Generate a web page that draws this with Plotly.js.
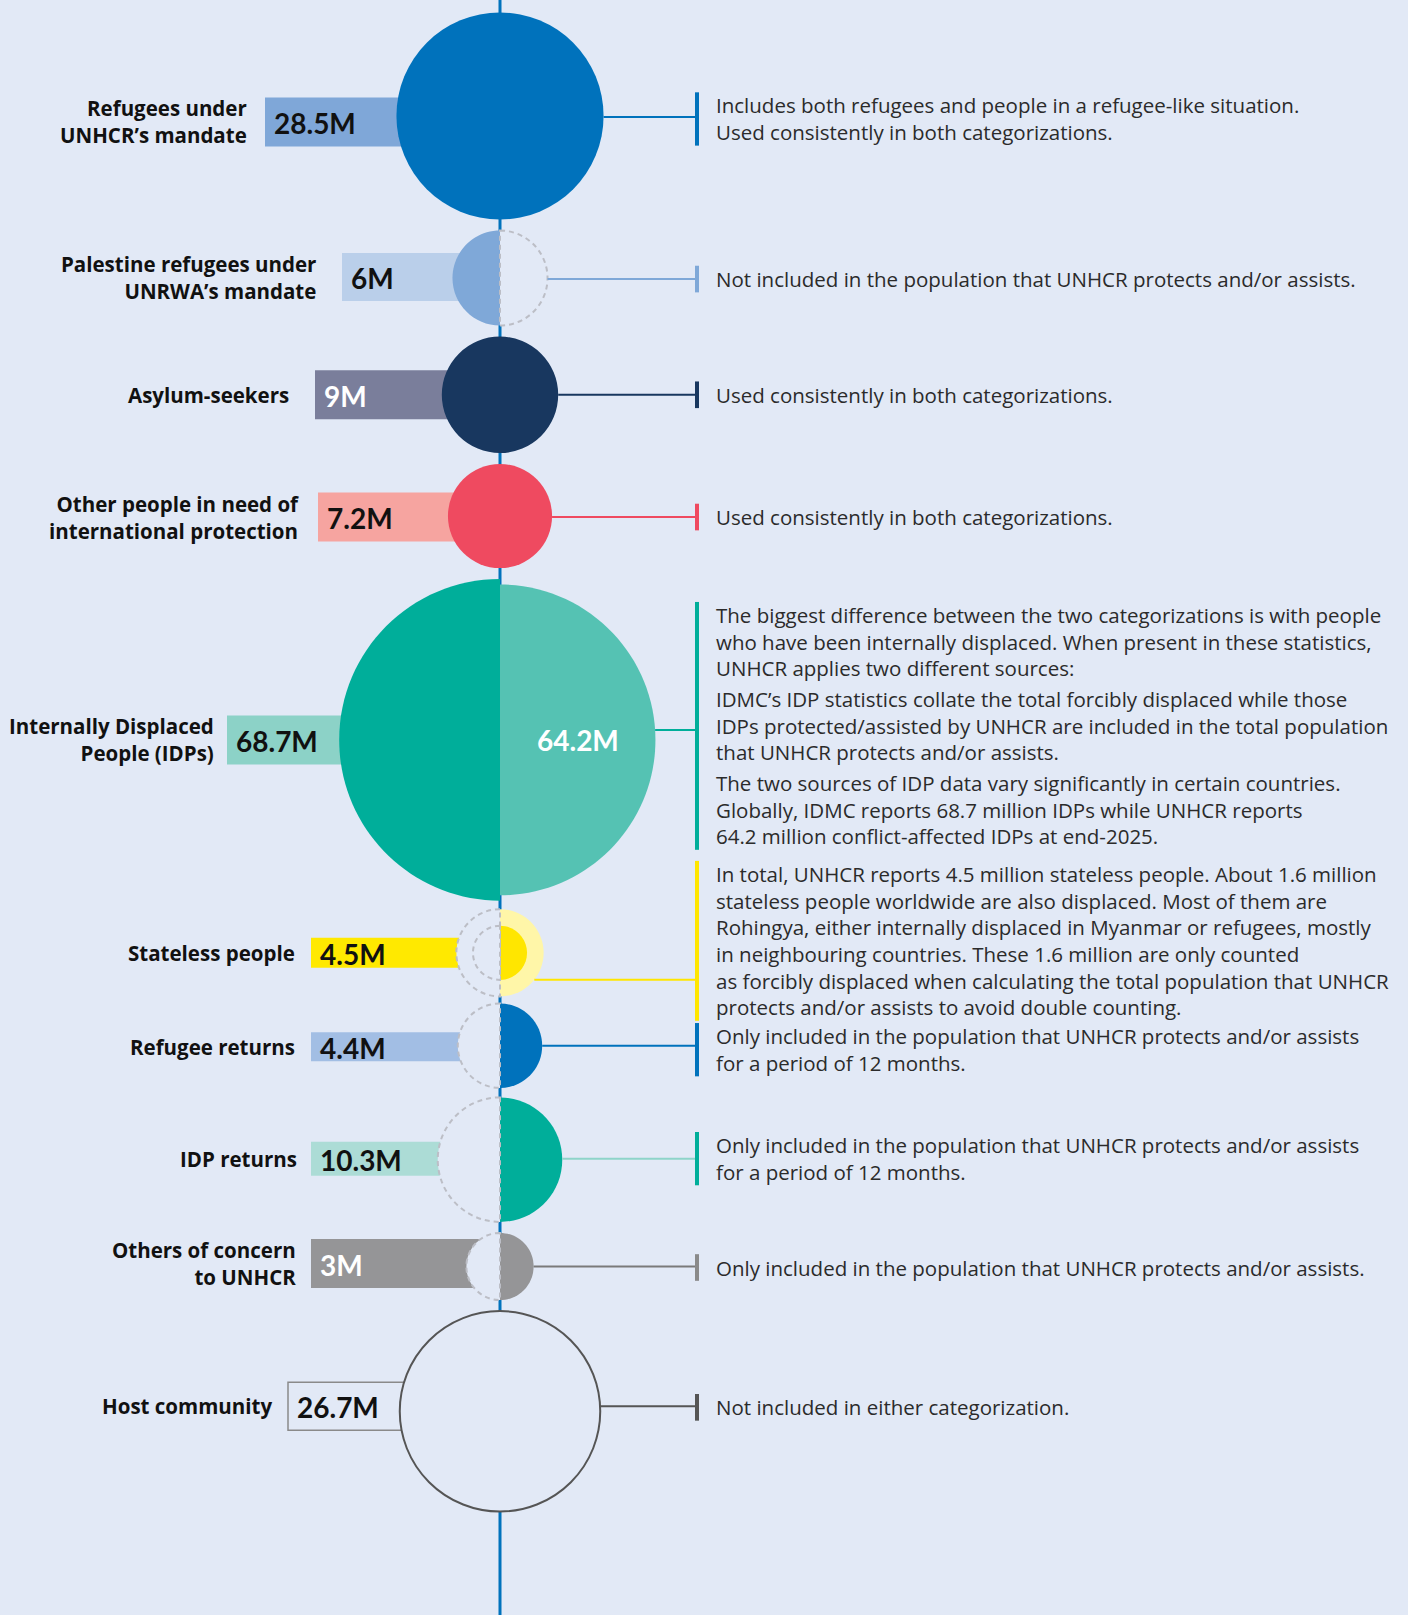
<!DOCTYPE html>
<html><head><meta charset="utf-8">
<script src="https://cdn.plot.ly/plotly-3.0.1.min.js"></script>
<style>html,body{margin:0;padding:0;background:#e2e9f6;}#chart{width:1408px;height:1615px;}</style>
</head><body><div id="chart"></div>
<script>
// ---------------- DATA ----------------
const categories = [
  "Refugees under<br>UNHCR’s mandate",
  "Palestine refugees under<br>UNRWA’s mandate",
  "Asylum-seekers",
  "Other people in need of<br>international protection",
  "Internally Displaced<br>People (IDPs)",
  "Stateless people",
  "Refugee returns",
  "IDP returns",
  "Others of concern<br>to UNHCR",
  "Host community"
];
// value shown in the bar label (millions)
const barValues = [28.5, 6, 9, 7.2, 68.7, 4.5, 4.4, 10.3, 3, 26.7];
// left half: forcibly displaced categorization (null = not included)
const displacedValues = [28.5, 6, 9, 7.2, 68.7, null, null, null, null, null];
// right half: population UNHCR protects and/or assists (null = not included)
const protectedValues = [28.5, null, 9, 7.2, 64.2, 4.5, 4.4, 10.3, 3, null];
// stateless people who are also displaced (millions)
const statelessDisplaced = 1.6;
const rightLabels = [null, null, null, null, "64.2M", null, null, null, null, null];
const notes = [
  ["Includes both refugees and people in a refugee-like situation.<br>Used consistently in both categorizations."],
  ["Not included in the population that UNHCR protects and/or assists."],
  ["Used consistently in both categorizations."],
  ["Used consistently in both categorizations."],
  ["The biggest difference between the two categorizations is with people<br>who have been internally displaced. When present in these statistics,<br>UNHCR applies two different sources:",
   "IDMC’s IDP statistics collate the total forcibly displaced while those<br>IDPs protected/assisted by UNHCR are included in the total population<br>that UNHCR protects and/or assists.",
   "The two sources of IDP data vary significantly in certain countries.<br>Globally, IDMC reports 68.7 million IDPs while UNHCR reports<br>64.2 million conflict-affected IDPs at end-2025."],
  ["In total, UNHCR reports 4.5 million stateless people. About 1.6 million<br>stateless people worldwide are also displaced. Most of them are<br>Rohingya, either internally displaced in Myanmar or refugees, mostly<br>in neighbouring countries. These 1.6 million are only counted<br>as forcibly displaced when calculating the total population that UNHCR<br>protects and/or assists to avoid double counting."],
  ["Only included in the population that UNHCR protects and/or assists<br>for a period of 12 months."],
  ["Only included in the population that UNHCR protects and/or assists<br>for a period of 12 months."],
  ["Only included in the population that UNHCR protects and/or assists."],
  ["Not included in either categorization."]
];

// ---------------- STYLE / LAYOUT ----------------
const BG = "#e2e9f6";
const W = 1408, H = 1615;
const CX = 500, K = 19.4, START_Y = 12.4, GAP = 11;
const NOTE_FONT = "'Open Sans', Lato, sans-serif";
const NOTE_SIZE = 20.5;
const TICK_X = 697, TEXT_X = 714, LH = 1.3 * NOTE_SIZE, PGAP = 4;
const LABEL_FONT = "'Open Sans', Lato, sans-serif";
const VALUE_FONT = "Lato, 'Open Sans', sans-serif";
const leftColor  = ["#0072bc","#7fa8d8","#18375f","#ef4a60","#00ae9a",null,null,null,null,null];
const rightColor = ["#0072bc",null,"#18375f","#ef4a60","#55c2b3","#fff6a8","#0072bc","#00ae9a","#959597",null];
const barFill  = ["#7fa7d8","#bacfea","#7a7e9b","#f6a4a0","#8cd2c7","#ffe900","#a2bee4","#acdcd6","#959597","rgba(0,0,0,0)"];
const valColor = ["#111","#111","#fff","#111","#111","#111","#111","#111","#fff","#111"];
const lineColor = ["#0072bc","#7fa8d8","#18375f","#ef4a60","#00ae9a","#ffe600","#0072bc","#8ed4c9","#7a7a7a","#555"];
const tickColor = ["#0072bc","#7fa8d8","#18375f","#ef4a60","#00ae9a","#ffe600","#0072bc","#00ae9a","#8a8a8a","#555"];
const barLeft  = [265, 342, 315, 318, 227, 311, 311, 311, 311, 288];
const barH     = [49, 48, 49, 49, 49, 30, 29, 34, 49, 48];
const barDy    = [6, -1, 0, 1, 0, 0, 1, -1, -3, -5];
const labelRight = [249, 318, 291, 301, 216, 297, 297, 299, 298, 274];
const textDy   = [3, 1, 0, 1, -14, -12, 4, -1, 1, -4];
const connDy   = [1, 1, 0, 1, -10, 27, 0, -1, 0, -5];
const rowBig   = [0, 0, 0, 0, 0, 2.5, 1.5, 0, 0, 0]; // extra px on small circle radii

const rad = v => K * Math.sqrt(v);
const nRows = categories.length;
const rowR = barValues.map((v,i) => rad(Math.max(v, displacedValues[i]||0, protectedValues[i]||0)));
const centers = [];
let yy = START_Y;
for (let i = 0; i < nRows; i++) { const cy = yy + rowR[i]; centers.push(cy); yy = cy + rowR[i] + GAP; }

const KAPPA = 0.5523;
function halfPath(cx, cy, r, side) {
  const s = side === "right" ? 1 : -1, k = KAPPA * r;
  return `M ${cx},${cy - r} C ${cx + s*k},${cy - r} ${cx + s*r},${cy - k} ${cx + s*r},${cy} ` +
         `C ${cx + s*r},${cy + k} ${cx + s*k},${cy + r} ${cx},${cy + r} Z`;
}
const shapes = [];
// central spine
shapes.push({type:"line", layer:"below", xref:"x", yref:"y", x0:CX, x1:CX, y0:0, y1:H, line:{color:"#0072bc", width:3}});

function filledHalf(cy, r, side, color) {
  shapes.push({type:"path", xref:"x", yref:"y", path:halfPath(CX, cy, r, side), fillcolor:color, line:{width:0}});
}
function dashedHalf(cy, r, side) {
  shapes.push({type:"path", xref:"x", yref:"y", path:halfPath(CX, cy, r, side), fillcolor:BG, line:{color:"#bcbec6", width:2, dash:"5px,4px"}});
}

const annotations = [];
for (let i = 0; i < nRows; i++) {
  const cy = centers[i];
  const dv = displacedValues[i], pv = protectedValues[i];
  const ex = rowBig[i];
  // circles
  if (dv == null && pv == null) {
    const r = rad(barValues[i]);
    shapes.push({type:"circle", xref:"x", yref:"y", x0:CX - r, x1:CX + r, y0:cy - r, y1:cy + r, fillcolor:BG, line:{color:"#555", width:2}});
  } else if (dv != null && pv != null && dv === pv && leftColor[i] === rightColor[i]) {
    const r = rad(dv);
    shapes.push({type:"circle", xref:"x", yref:"y", x0:CX - r, x1:CX + r, y0:cy - r, y1:cy + r, fillcolor:leftColor[i], line:{width:0}});
  } else {
    if (dv != null) filledHalf(cy, rad(dv) + ex, "left", leftColor[i]);
    if (pv != null) filledHalf(cy, rad(pv) + ex, "right", rightColor[i]);
    if (categories[i] === "Stateless people") filledHalf(cy, rad(statelessDisplaced) + ex, "right", "#ffe600");
    if (dv == null) dashedHalf(cy, rad(pv) + ex, "left");
    if (pv == null) dashedHalf(cy, rad(dv) + ex, "right");
    if (categories[i] === "Stateless people") dashedHalf(cy, rad(statelessDisplaced) + ex, "left");
  }
  // connector
  const rr = rad(pv != null ? pv : (dv != null ? dv : barValues[i])) + ex;
  const dy = connDy[i];
  const x0 = CX + Math.sqrt(Math.max(rr*rr - dy*dy, 0));
  shapes.push({type:"line", xref:"x", yref:"y", x0:x0, x1:TICK_X, y0:cy + dy, y1:cy + dy, line:{color:lineColor[i], width:2}});
  // notes: one annotation per paragraph
  const paras = notes[i];
  const nl = paras.map(p => p.split("<br>").length);
  const blockH = nl.reduce((a,b)=>a+b,0) * LH + (paras.length - 1) * PGAP;
  const top = cy + textDy[i] - blockH/2;
  shapes.push({type:"rect", xref:"x", yref:"y", x0:TICK_X - 2, x1:TICK_X + 2, y0:top, y1:top + blockH, fillcolor:tickColor[i], line:{width:0}});
  let off = 0;
  paras.forEach((p, j) => {
    annotations.push({xref:"x", yref:"y", x:TEXT_X, y:top + off + nl[j]*LH/2, xanchor:"left", yanchor:"middle", align:"left",
      text:p, showarrow:false, font:{family:NOTE_FONT, size:NOTE_SIZE, color:"#2b2b2b"}});
    off += nl[j]*LH + PGAP;
  });
  // category label
  const by = cy + barDy[i];
  annotations.push({xref:"x", yref:"y", x:labelRight[i], y:by, xanchor:"right", yanchor:"middle", align:"right",
    text:"<b>" + categories[i] + "</b>", showarrow:false, font:{family:LABEL_FONT, size:20.5, color:"#111"}});
  // value label
  annotations.push({xref:"x", yref:"y", x:barLeft[i] + 7, y:by + 1, xanchor:"left", yanchor:"middle",
    text:"<b>" + barValues[i] + "M</b>", showarrow:false, font:{family:VALUE_FONT, size:28, color:valColor[i]}});
  if (rightLabels[i]) {
    annotations.push({xref:"x", yref:"y", x:CX + rad(pv)*0.5, y:cy, xanchor:"center", yanchor:"middle",
      text:"<b>" + rightLabels[i] + "</b>", showarrow:false, font:{family:VALUE_FONT, size:28, color:"#fff"}});
  }
}

const barTrace = {
  type:"bar", orientation:"h",
  y: centers.map((c,i) => c + barDy[i]),
  x: barLeft.map(l => CX - l),
  base: barLeft,
  width: barH,
  marker:{color:barFill, line:{color:barFill.map((c,i)=> i===nRows-1 ? "#8a8a8a" : "rgba(0,0,0,0)"), width:barFill.map((c,i)=> i===nRows-1 ? 1.5 : 0)}},
  hoverinfo:"skip", showlegend:false
};

const layout = {
  width:W, height:H, margin:{l:0,r:0,t:0,b:0},
  paper_bgcolor:BG, plot_bgcolor:BG,
  xaxis:{range:[0,W], visible:false, fixedrange:true},
  yaxis:{range:[H,0], visible:false, fixedrange:true},
  shapes:shapes, annotations:annotations, showlegend:false
};
Plotly.newPlot("chart", [barTrace], layout, {staticPlot:true, displayModeBar:false});
</script></body></html>
